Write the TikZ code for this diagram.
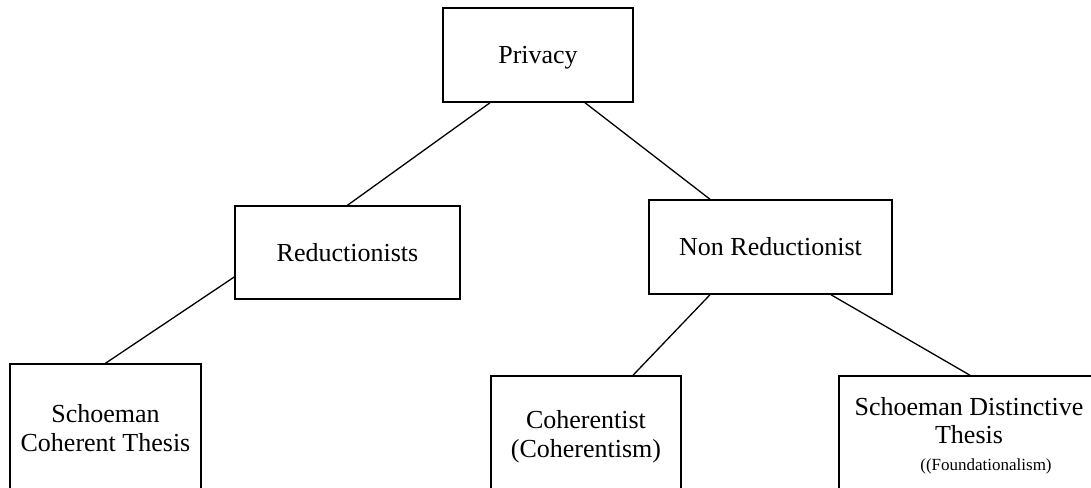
\documentclass[tikz,border=0pt]{standalone}
\usepackage{fontspec}
\setmainfont{Liberation Serif}
\begin{document}
\begin{tikzpicture}[x=1pt,y=-1pt,
  box/.style={draw,line width=1.5pt,rectangle,inner sep=0pt,align=center,
    font=\fontsize{26}{29}\selectfont},
  link/.style={line width=1.3pt}]
\clip (0,0) rectangle (1091,487);
% tree of nodes
\node[box,minimum width=190pt,minimum height=94pt,text depth=0pt] (privacy) at (538,55) {Privacy};
\node[box,minimum width=225pt,minimum height=93pt] (reduct) at (347.5,252.5) {Reductionists};
\node[box,minimum width=243pt,minimum height=94pt] (nonred) at (770.5,247) {Non Reductionist};
\node[box,minimum width=191pt,minimum height=129pt] (schc) at (105.5,428.5) {Schoeman\\Coherent Thesis};
\node[box,minimum width=190pt,minimum height=121pt] (coh) at (586,436.5) {Coherentist\\(Coherentism)};
\node[box,minimum width=260pt,minimum height=119pt,font=\fontsize{26}{28}\selectfont] (sdt) at (969,435.5)
  {Schoeman Distinctive\\Thesis\\[-1pt]{\fontsize{17}{20}\selectfont\hspace*{34pt}((Foundationalism)}};
% connectors
\draw[link] ([xshift=-48pt]privacy.south) -- (reduct.north);
\draw[link] ([xshift=47pt]privacy.south) -- ([xshift=-60.5pt]nonred.north);
\draw[link] ([yshift=-24.5pt]reduct.west) -- (schc.north);
\draw[link] ([xshift=-60.5pt]nonred.south) -- ([xshift=47pt]coh.north);
\draw[link] ([xshift=60.5pt]nonred.south) -- ([xshift=1pt]sdt.north);
\end{tikzpicture}
\end{document}
